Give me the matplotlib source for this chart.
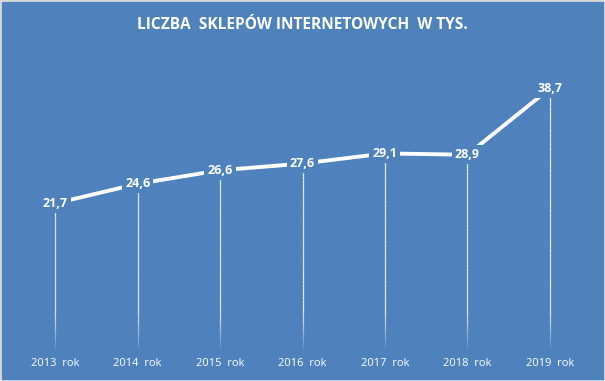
import numpy as np
import matplotlib
matplotlib.use("Agg")
import matplotlib.pyplot as plt
from matplotlib.collections import LineCollection

years = ["2013 rok", "2014 rok", "2015 rok", "2016 rok", "2017 rok", "2018 rok", "2019 rok"]
shops = [21.7, 24.6, 26.6, 27.6, 29.1, 28.9, 38.7]
title = "LICZBA  SKLEPÓW INTERNETOWYCH  W TYS."

bg = "#4F81BD"
plt.rcParams['font.family'] = ['Open Sans', 'DejaVu Sans']

fig = plt.figure(figsize=(6.05, 3.81), dpi=100, facecolor=bg)
ax = fig.add_axes([14 / 605, 31 / 381, 577 / 605, 304 / 381])
ax.set_facecolor(bg)
x = np.arange(len(years))
ax.set_xlim(-0.5, len(years) - 0.5)
ax.set_ylim(0, 45)

# drop lines, fading out toward the bottom
segs, cols = [], []
for xi, v in zip(x, shops):
    ys = np.linspace(0, v, 60)
    for y0, y1 in zip(ys[:-1], ys[1:]):
        segs.append([(xi, y0), (xi, y1)])
        a = min(1.0, 0.1 + y0 / 6.0)
        cols.append((1, 1, 1, 0.85 * a))
ax.add_collection(LineCollection(segs, colors=cols, linewidths=0.9, zorder=1))

ax.plot(x, shops, color="white", lw=2.8, solid_capstyle="butt", zorder=2)

for xi, v in zip(x, shops):
    ax.text(xi, v, f"{v:.1f}".replace(".", ","), color="white", fontsize=9,
            fontweight="bold", ha="center", va="center", zorder=3,
            bbox=dict(boxstyle="square,pad=0.25", fc=bg, ec="none"))

ax.set_xticks(x)
ax.set_xticklabels([y.replace(" ", "  ") for y in years], color="white", fontsize=8)
ax.tick_params(axis="x", length=0, pad=6)
ax.set_yticks([])
for s in ax.spines.values():
    s.set_visible(False)

fig.text(0.5, 1 - 25 / 381, title, color="white", fontsize=11.2, fontweight="bold",
         ha="center", va="center")

# thin grey frame around the chart
fig.patches.append(plt.Rectangle((0, 0), 1, 1, transform=fig.transFigure,
                                 fill=False, ec="#D9D9D9", lw=2))

fig.savefig("out.png", dpi=100, facecolor=bg)
